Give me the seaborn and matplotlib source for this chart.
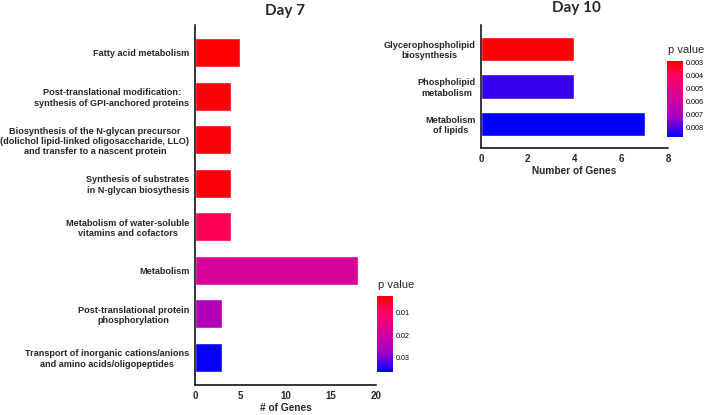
import matplotlib
matplotlib.use("Agg")
import matplotlib.pyplot as plt
import seaborn as sns
from matplotlib.colors import LinearSegmentedColormap, Normalize
from matplotlib.cm import ScalarMappable

# Day 7 pathways
day7_terms = [
    "Fatty acid metabolism",
    "Post-translational modification:\nsynthesis of GPI-anchored proteins",
    "Biosynthesis of the N-glycan precursor\n(dolichol lipid-linked oligosaccharide, LLO)\nand transfer to a nascent protein",
    "Synthesis of substrates\nin N-glycan biosythesis",
    "Metabolism of water-soluble\nvitamins and cofactors",
    "Metabolism",
    "Post-translational protein\nphosphorylation",
    "Transport of inorganic cations/anions\nand amino acids/oligopeptides",
]
day7_genes = [5, 4, 4, 4, 4, 18, 3, 3]
day7_pval = [0.0025, 0.003, 0.003, 0.003, 0.008, 0.019, 0.025, 0.0365]
day7_prange = (0.0023, 0.0368)
day7_cticks = [0.01, 0.02, 0.03]
day7_xticks = [0, 5, 10, 15, 20]

# Day 10 pathways
day10_terms = [
    "Glycerophospholipid\nbiosynthesis",
    "Phospholipid\nmetabolism",
    "Metabolism\nof lipids",
]
day10_genes = [4, 4, 7]
day10_pval = [0.0029, 0.0082, 0.0087]
day10_prange = (0.00285, 0.0087)
day10_cticks = [0.003, 0.004, 0.005, 0.006, 0.007, 0.008]
day10_xticks = [0, 2, 4, 6, 8]

sns.set_style("white")
plt.rcParams["font.family"] = ["Liberation Sans", "DejaVu Sans"]

cmap = LinearSegmentedColormap.from_list(
    "rb", [(0, "#FF0000"), (0.2, "#FF0066"), (0.5, "#D4009C"), (0.75, "#A000C8"), (1, "#0000FF")])

fig = plt.figure(figsize=(7.15, 4.15), dpi=100)


def panel(ax_rect, cb_rect, terms, genes, pvals, prange, cticks, xticks, title, xlabel, ctitle_pos, title_pos):
    ax = fig.add_axes(ax_rect)
    norm = Normalize(*prange)
    pal = {t: cmap(norm(p)) for t, p in zip(terms, pvals)}
    sns.barplot(x=genes, y=terms, hue=terms, palette=pal, legend=False,
                orient="h", width=0.66, ax=ax, saturation=1)
    ax.set_xlim(xticks[0], xticks[-1])
    ax.set_ylim(len(terms) - 0.36, -0.64)
    ax.set_xticks(xticks)
    ax.set_xticklabels([str(t) for t in xticks], fontsize=7, fontweight="bold")
    ax.set_yticks(range(len(terms)))
    ax.set_yticklabels(terms, fontsize=6.6, fontweight="bold")
    for lbl in ax.get_yticklabels():
        lbl.set_multialignment("center")
    ax.set_xlabel(xlabel, fontsize=7.3, fontweight="bold", labelpad=2)
    ax.set_ylabel("")
    sns.despine(ax=ax)
    for s in ["left", "bottom"]:
        ax.spines[s].set_linewidth(1.1)
        ax.spines[s].set_color("black")
    ax.tick_params(axis="both", direction="out", length=3, width=1, color="black", pad=1)
    fig.text(title_pos[0], title_pos[1], title, fontsize=11, fontweight="bold",
             family=["Lato", "DejaVu Sans"], ha="center", va="center")

    cax = fig.add_axes(cb_rect)
    cb = fig.colorbar(ScalarMappable(norm=norm, cmap=cmap), cax=cax)
    cb.outline.set_visible(False)
    cb.set_ticks(cticks)
    cb.set_ticklabels([str(t) for t in cticks])
    cax.invert_yaxis()
    cax.tick_params(direction="in", length=3, width=0.8, color="white",
                    labelcolor="black", labelsize=5.2, pad=2)
    fig.text(ctitle_pos[0], ctitle_pos[1], "p value", fontsize=8, ha="left", va="center")


panel([0.2727, 0.0723, 0.2531, 0.8675], [0.5273, 0.1036, 0.0224, 0.1831],
      day7_terms, day7_genes, day7_pval, day7_prange, day7_cticks, day7_xticks,
      "Day 7", "# of Genes", (0.528, 1 - 285 / 415), (285 / 715, 1 - 11 / 415))
panel([0.6727, 0.6434, 0.2615, 0.2964], [0.9329, 0.6699, 0.0224, 0.1831],
      day10_terms, day10_genes, day10_pval, day10_prange, day10_cticks, day10_xticks,
      "Day 10", "Number of Genes", (0.934, 1 - 50 / 415), (576 / 715, 1 - 8 / 415))

fig.savefig("out.png", dpi=100)
